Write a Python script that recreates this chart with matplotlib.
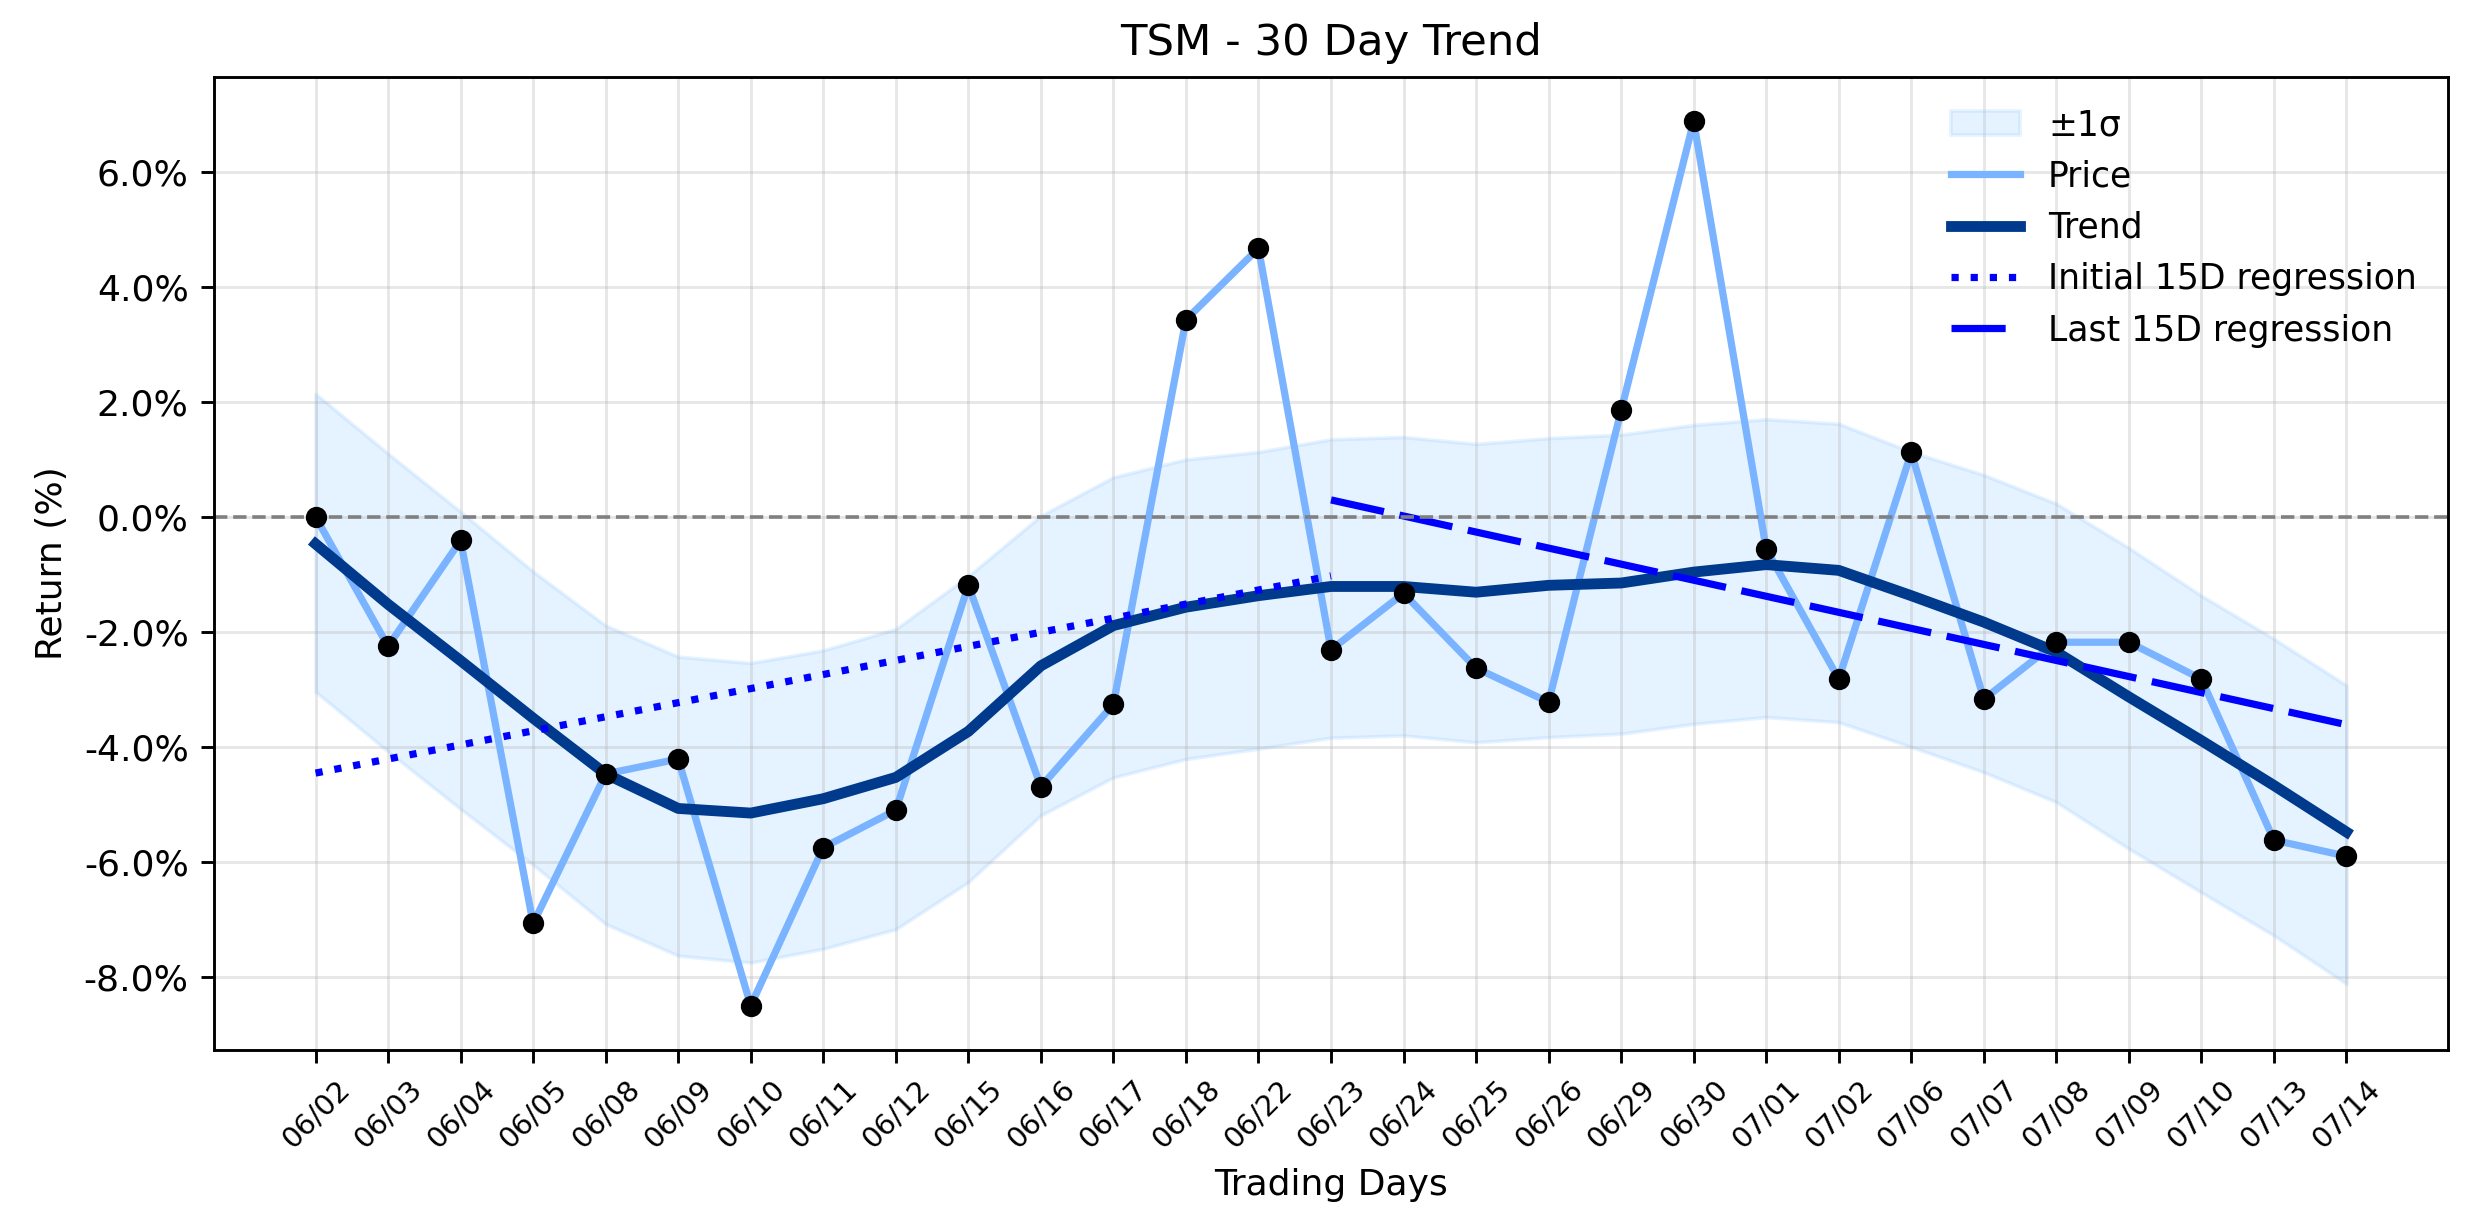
import numpy as np
import matplotlib
matplotlib.use('Agg')
import matplotlib.pyplot as plt
from matplotlib.ticker import FuncFormatter

# 交易日
dates = ['06/02', '06/03', '06/04', '06/05', '06/08', '06/09', '06/10', '06/11',
         '06/12', '06/15', '06/16', '06/17', '06/18', '06/22', '06/23', '06/24',
         '06/25', '06/26', '06/29', '06/30', '07/01', '07/02', '07/06', '07/07',
         '07/08', '07/09', '07/10', '07/13', '07/14']

# 累计收益 (%)
price = [0.00, -2.25, -0.41, -7.07, -4.47, -4.21, -8.50, -5.75, -5.10, -1.19,
         -4.69, -3.26, 3.43, 4.67, -2.31, -1.33, -2.63, -3.22, 1.85, 6.88,
         -0.56, -2.82, 1.12, -3.17, -2.18, -2.18, -2.82, -5.62, -5.90]

trend = [-0.47, -1.52, -2.50, -3.50, -4.47, -5.07, -5.15, -4.90, -4.53, -3.73,
         -2.59, -1.89, -1.57, -1.37, -1.21, -1.21, -1.31, -1.19, -1.15, -0.96,
         -0.83, -0.93, -1.37, -1.83, -2.35, -3.13, -3.89, -4.67, -5.48]

band_upper = [2.14, 1.10, 0.09, -0.95, -1.89, -2.43, -2.54, -2.32, -1.95, -1.03,
              0.02, 0.69, 1.00, 1.13, 1.35, 1.39, 1.27, 1.37, 1.43, 1.60,
              1.70, 1.62, 1.13, 0.73, 0.23, -0.54, -1.37, -2.12, -2.93]

band_lower = [-3.04, -4.08, -5.08, -6.05, -7.08, -7.63, -7.75, -7.51, -7.17, -6.35,
              -5.19, -4.53, -4.21, -4.03, -3.84, -3.80, -3.92, -3.83, -3.77, -3.60,
              -3.48, -3.57, -4.00, -4.44, -4.96, -5.77, -6.53, -7.28, -8.12]

win = 15

x = np.arange(len(dates))
price = np.array(price)

fig = plt.figure(figsize=(2474 / 260, 1224 / 260), dpi=260)
ax = fig.add_axes([0.0865, 0.1422, 0.903, 0.7949])

ax.fill_between(x, band_lower, band_upper, color='#99ccff', alpha=0.25, label='±1σ')
ax.plot(x, price, color='#7ab3ff', lw=2, label='Price')
ax.plot(x, trend, color='#003a8c', lw=3, label='Trend')

# 前后15日回归
x0 = x[:win]
k0, b0 = np.polyfit(x0, price[:win], 1)
ax.plot(x0, k0 * x0 + b0, color='blue', lw=2, ls=':', label='Initial 15D regression')
x1 = x[-win:]
k1, b1 = np.polyfit(x1, price[-win:], 1)
ax.plot(x1, k1 * x1 + b1, color='blue', lw=2, dashes=(7.5, 2.2), label='Last 15D regression')

ax.scatter(x, price, color='black', s=24, zorder=5)
ax.axhline(0, color='gray', lw=1, ls='--')

ax.set_xticks(x)
ax.set_xticklabels(dates, rotation=45, fontsize=8)
ax.yaxis.set_major_formatter(FuncFormatter(lambda v, p: f'{v:.1f}%'))
ax.grid(alpha=0.3)
ax.set_title('TSM - 30 Day Trend', fontsize=12)
ax.set_xlabel('Trading Days')
ax.set_ylabel('Return (%)')
ax.legend(loc='upper right', frameon=False, fontsize=9.6)

fig.savefig('out.png', dpi=260)
